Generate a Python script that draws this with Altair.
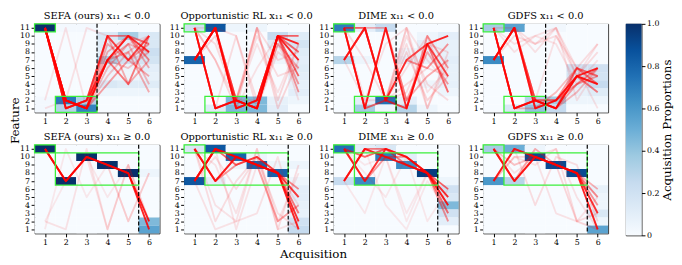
import altair as alt
import pandas as pd

# ---------------- data ----------------
ACQ = [1, 2, 3, 4, 5, 6]
FEATURES = [1, 2, 3, 4, 5, 6, 7, 8, 9, 10, 11]
METHODS = ["SEFA (ours)", "Opportunistic RL", "DIME", "GDFS"]
CONDS = ["x₁₁ < 0.0", "x₁₁ ≥ 0.0"]

# heatmap cells: (acquisition, feature, proportion); unlisted cells are 0
SEFA_LT_HEAT = [(1, 11, 1.0), (2, 2, 0.72), (2, 1, 0.3), (3, 1, 0.68), (3, 2, 0.32),
                (4, 10, 0.15), (4, 9, 0.12), (4, 8, 0.1), (4, 7, 0.35), (4, 6, 0.08), (4, 5, 0.05), (4, 4, 0.15), (4, 3, 0.05),
                (5, 10, 0.35), (5, 9, 0.1), (5, 8, 0.12), (5, 7, 0.2), (5, 6, 0.05), (5, 5, 0.05), (5, 4, 0.12), (5, 3, 0.05),
                (6, 10, 0.15), (6, 9, 0.15), (6, 8, 0.22), (6, 7, 0.18), (6, 6, 0.1), (6, 5, 0.08), (6, 4, 0.12), (6, 3, 0.05),
                (1, 1, 0.02), (1, 2, 0.02), (2, 11, 0.02), (3, 11, 0.02)]
OPP_LT_HEAT = [(1, 11, 0.2), (1, 7, 0.8), (2, 11, 0.85), (2, 1, 0.12), (3, 2, 0.45), (3, 1, 0.45), (3, 11, 0.05),
               (4, 2, 0.45), (4, 1, 0.45), (4, 11, 0.05),
               (5, 10, 0.25), (5, 9, 0.12), (5, 8, 0.05), (5, 7, 0.05), (5, 1, 0.1), (5, 2, 0.08),
               (6, 10, 0.12), (6, 9, 0.18), (6, 8, 0.12), (6, 7, 0.1), (6, 6, 0.12), (6, 5, 0.1), (6, 4, 0.08), (6, 3, 0.1), (6, 2, 0.05)]
DIME_LT_HEAT = [(1, 11, 0.7), (1, 7, 0.3), (2, 11, 0.1), (2, 1, 0.35), (2, 2, 0.1), (2, 7, 0.05),
                (3, 2, 0.75), (3, 11, 0.25), (3, 1, 0.05), (4, 1, 0.3), (4, 2, 0.1), (4, 7, 0.1), (4, 8, 0.05),
                (5, 9, 0.1), (5, 8, 0.08), (5, 7, 0.08), (5, 1, 0.05), (5, 4, 0.05), (5, 10, 0.05),
                (6, 10, 0.1), (6, 9, 0.08), (6, 8, 0.08), (6, 7, 0.1), (6, 6, 0.08), (6, 5, 0.08), (6, 4, 0.08), (6, 3, 0.05)]
GDFS_LT_HEAT = [(1, 11, 0.35), (1, 7, 0.65), (2, 11, 0.55), (2, 1, 0.15), (3, 2, 0.3), (3, 1, 0.4),
                (4, 2, 0.35), (4, 1, 0.25), (4, 11, 0.03),
                (5, 6, 0.2), (5, 5, 0.18), (5, 4, 0.12), (5, 3, 0.08), (5, 2, 0.05),
                (6, 6, 0.2), (6, 5, 0.18), (6, 4, 0.25), (6, 3, 0.12), (6, 2, 0.05)]
SEFA_GE_HEAT = [(1, 11, 1.0), (2, 7, 1.0), (3, 10, 1.0), (4, 9, 1.0), (5, 8, 1.0),
                (6, 2, 0.45), (6, 1, 0.55), (6, 8, 0.05)]
OPP_GE_HEAT = [(1, 11, 0.15), (1, 7, 0.85), (2, 11, 0.85), (2, 7, 0.1), (3, 10, 0.8), (3, 9, 0.05),
               (4, 9, 0.8), (4, 10, 0.05), (5, 8, 0.8), (5, 9, 0.05),
               (6, 1, 0.25), (6, 2, 0.2), (6, 3, 0.08), (6, 4, 0.08), (6, 5, 0.1), (6, 6, 0.1), (6, 7, 0.05), (6, 9, 0.05)]
DIME_GE_HEAT = [(1, 11, 0.75), (1, 7, 0.25), (2, 7, 0.65), (2, 11, 0.1), (3, 10, 0.7), (3, 11, 0.15),
                (4, 9, 0.65), (4, 10, 0.1), (5, 8, 0.95),
                (6, 4, 0.45), (6, 3, 0.2), (6, 6, 0.2), (6, 5, 0.15), (6, 2, 0.1), (6, 7, 0.05)]
GDFS_GE_HEAT = [(1, 11, 0.35), (1, 7, 0.6), (2, 11, 0.5), (2, 7, 0.3), (3, 10, 0.9), (3, 11, 0.05),
                (4, 9, 0.9), (5, 8, 0.9),
                (6, 1, 0.55), (6, 3, 0.15), (6, 6, 0.08), (6, 2, 0.05), (6, 4, 0.05), (6, 5, 0.05)]

# acquisition trajectories: (feature acquired at steps 1..6, line opacity)
SEFA_LT_PATHS = [([11, 2, 1, 7, 10, 8], 0.8), ([11, 1, 2, 10, 7, 10], 0.7), ([11, 2, 1, 7, 4, 10], 0.5),
                 ([11, 2, 1, 10, 10, 9], 0.5), ([11, 1, 2, 7, 10, 7], 0.45), ([11, 2, 1, 4, 7, 9], 0.35),
                 ([11, 2, 1, 9, 7, 5], 0.3), ([11, 2, 1, 8, 10, 6], 0.3), ([11, 1, 2, 7, 8, 3], 0.3),
                 ([11, 2, 1, 6, 9, 8], 0.25), ([11, 1, 2, 10, 4, 7], 0.3), ([11, 2, 1, 7, 9, 4], 0.25),
                 ([11, 2, 1, 5, 8, 10], 0.2), ([11, 1, 2, 7, 6, 8], 0.2),
                 ([2, 11, 1, 7, 9, 10], 0.1), ([1, 2, 11, 10, 7, 8], 0.1)]
OPP_LT_PATHS = [([11, 1, 2, 1, 10, 7], 0.85), ([7, 11, 1, 2, 10, 9], 0.85), ([11, 1, 2, 1, 10, 10], 0.6),
                ([7, 11, 2, 1, 10, 5], 0.6), ([7, 11, 1, 2, 10, 8], 0.5), ([11, 1, 2, 1, 10, 3], 0.4),
                ([7, 11, 2, 1, 9, 6], 0.3), ([7, 11, 1, 2, 10, 4], 0.3),
                ([11, 7, 1, 11, 2, 9], 0.15), ([7, 10, 2, 11, 1, 7], 0.15), ([11, 9, 2, 10, 5, 6], 0.12),
                ([7, 11, 10, 2, 9, 4], 0.12), ([11, 1, 10, 1, 8, 6], 0.12), ([7, 11, 2, 11, 7, 8], 0.12),
                ([11, 11, 1, 6, 10, 2], 0.1), ([7, 11, 2, 9, 3, 9], 0.1), ([11, 7, 2, 2, 10, 8], 0.12)]
DIME_LT_PATHS = [([11, 1, 11, 1, 9, 10], 0.85), ([7, 11, 2, 7, 9, 5], 0.7), ([11, 11, 2, 1, 9, 3], 0.5),
                 ([7, 11, 2, 1, 10, 6], 0.4), ([11, 1, 2, 7, 6, 9], 0.4), ([7, 11, 11, 2, 5, 7], 0.3),
                 ([11, 1, 11, 2, 8, 4], 0.3),
                 ([11, 7, 2, 11, 1, 8], 0.12), ([7, 11, 2, 10, 4, 2], 0.12), ([11, 2, 9, 11, 3, 6], 0.1),
                 ([11, 1, 2, 8, 2, 5], 0.15), ([7, 11, 2, 9, 1, 7], 0.12), ([11, 11, 2, 6, 10, 3], 0.12),
                 ([7, 2, 2, 11, 7, 4], 0.1), ([11, 1, 2, 3, 9, 8], 0.12), ([11, 11, 2, 4, 6, 5], 0.12)]
GDFS_LT_PATHS = [([11, 1, 2, 1, 5, 4], 0.85), ([7, 11, 1, 2, 5, 6], 0.85), ([11, 1, 2, 1, 6, 4], 0.5),
                 ([7, 11, 2, 1, 5, 3], 0.5), ([11, 1, 2, 2, 4, 6], 0.4), ([7, 11, 1, 2, 6, 5], 0.4),
                 ([11, 1, 2, 1, 4, 5], 0.35), ([7, 11, 2, 2, 5, 4], 0.3), ([11, 1, 1, 3, 6, 5], 0.25),
                 ([7, 11, 2, 1, 3, 6], 0.25),
                 ([11, 11, 9, 11, 5, 8], 0.12), ([7, 10, 9, 10, 6, 9], 0.12), ([11, 8, 10, 9, 4, 7], 0.1),
                 ([7, 11, 8, 11, 2, 6], 0.1), ([11, 9, 10, 11, 6, 1], 0.1), ([7, 11, 2, 10, 5, 9], 0.1)]
SEFA_GE_PATHS = [([11, 7, 10, 9, 8, 2], 0.85), ([11, 7, 10, 9, 8, 1], 0.85),
                 ([2, 1, 11, 1, 9, 2], 0.1), ([1, 11, 5, 9, 2, 8], 0.08), ([2, 7, 10, 5, 9, 1], 0.08),
                 ([11, 7, 10, 9, 2, 8], 0.12), ([11, 7, 10, 1, 9, 2], 0.1)]
OPP_GE_PATHS = [([7, 11, 10, 9, 8, 1], 0.85), ([11, 7, 10, 9, 8, 2], 0.8), ([7, 11, 9, 10, 8, 5], 0.6),
                ([11, 7, 10, 9, 8, 3], 0.5), ([7, 11, 10, 9, 8, 6], 0.45), ([7, 11, 10, 9, 2, 4], 0.35),
                ([11, 7, 9, 10, 8, 5], 0.4),
                ([11, 2, 7, 10, 1, 9], 0.12), ([7, 1, 2, 3, 10, 1], 0.1), ([11, 4, 2, 11, 2, 8], 0.1),
                ([7, 10, 6, 10, 3, 1], 0.12), ([11, 9, 3, 11, 1, 2], 0.1), ([7, 11, 1, 9, 8, 4], 0.1)]
DIME_GE_PATHS = [([11, 7, 11, 10, 8, 5], 0.8), ([7, 11, 10, 9, 8, 4], 0.8), ([11, 10, 11, 10, 8, 6], 0.6),
                 ([7, 11, 11, 9, 8, 3], 0.5), ([11, 7, 10, 10, 8, 4], 0.4), ([7, 11, 10, 9, 8, 2], 0.35),
                 ([11, 9, 10, 3, 8, 2], 0.08), ([7, 3, 10, 2, 8, 5], 0.08), ([11, 8, 5, 10, 2, 6], 0.08),
                 ([7, 11, 4, 1, 7, 3], 0.08)]
GDFS_GE_PATHS = [([11, 7, 10, 9, 8, 1], 0.85), ([7, 11, 10, 9, 8, 3], 0.8), ([11, 7, 10, 9, 8, 5], 0.45),
                 ([7, 11, 10, 9, 8, 4], 0.4), ([11, 7, 11, 9, 8, 6], 0.3),
                 ([7, 10, 10, 9, 2, 1], 0.15), ([11, 9, 10, 11, 2, 3], 0.12), ([7, 11, 4, 10, 9, 2], 0.12),
                 ([11, 8, 10, 3, 2, 5], 0.1), ([7, 10, 9, 11, 5, 1], 0.1), ([11, 9, 10, 9, 8, 1], 0.12)]

# highlighted blocks: (first acq, last acq, lowest feature, highest feature)
LT_BOXES = [(1, 1, 11, 11), (2, 3, 1, 2)]
GE_BOXES = [(1, 1, 11, 11), (2, 5, 7, 10)]
LT_CUT = 3   # dashed line after this acquisition
GE_CUT = 5

COLORBAR_TICKS = [0, 0.2, 0.4, 0.6, 0.8, 1.0]

# ---------------- style ----------------
BLUES = ["#f7fbff", "#deebf7", "#c6dbef", "#9ecae1", "#6baed6",
         "#4292c6", "#2171b5", "#08519c", "#08306b"]
BLUE_STOPS = [0, 0.125, 0.25, 0.375, 0.5, 0.625, 0.75, 0.875, 1.0]
FONT = "DejaVu Serif"
PW, PH = 127, 90

cscale = alt.Scale(domain=BLUE_STOPS, range=BLUES, interpolate="rgb")
xs = alt.Scale(domain=[0.5, 6.5], nice=False, zero=False)
ys = alt.Scale(domain=[0.5, 11.5], nice=False, zero=False)


def panel(method, cond, heat, paths, boxes, cut, feat_title=False, acq_title=False):
    cells = {(a, f): 0.0 for a in ACQ for f in FEATURES}
    for a, f, v in heat:
        cells[(a, f)] = v
    hdf = pd.DataFrame([{"a": a, "f": f, "v": v} for (a, f), v in cells.items()])

    rows = []
    order = sorted(range(len(paths)), key=lambda i: paths[i][1])
    for rank, i in enumerate(order):
        seq, w = paths[i]
        for a, f in zip(ACQ, seq):
            rows.append({"id": rank, "a": a, "f": f, "w": w})
    ldf = pd.DataFrame(rows)

    bdf = pd.DataFrame([{"a0": a0, "a1": a1, "f0": f0, "f1": f1} for a0, a1, f0, f1 in boxes])
    cdf = pd.DataFrame({"c": [cut]})

    if feat_title:
        # title of the upper-left panel, pushed down into the gap between the rows
        yaxis = alt.Axis(values=FEATURES, title="Feature", titleAngle=270, titleX=-13, titleY=PH + 8,
                         titleAlign="center", titleBaseline="bottom", titleFontSize=12,
                         titleFont=FONT, titleFontWeight="normal", titleColor="black")
    else:
        yaxis = alt.Axis(values=FEATURES, title=None)
    if acq_title:
        xaxis = alt.Axis(values=ACQ, title="Acquisition", titleX=131, titleFontSize=12,
                         titleFont=FONT, titleFontWeight="normal", titlePadding=3, titleColor="black")
    else:
        xaxis = alt.Axis(values=ACQ, title=None)

    X = lambda fld: alt.X(fld, type="quantitative", scale=xs, axis=xaxis)
    Y = lambda fld: alt.Y(fld, type="quantitative", scale=ys, axis=yaxis)

    hm = alt.Chart(hdf).transform_calculate(
        a0="datum.a - 0.5", a1="datum.a + 0.5", f0="datum.f - 0.5", f1="datum.f + 0.5"
    ).mark_rect(strokeWidth=0).encode(
        x=X("a0"), x2="a1", y=Y("f0"), y2="f1",
        color=alt.Color("v:Q", scale=cscale, legend=None),
    )
    ln = alt.Chart(ldf).mark_line(color="#ff0000", strokeWidth=1.9, strokeJoin="round").encode(
        x=X("a"), y=Y("f"), detail="id:N", order="a:Q",
        opacity=alt.Opacity("w:Q", scale=None),
    )
    bx = alt.Chart(bdf).transform_calculate(
        x0="datum.a0 - 0.5", x1="datum.a1 + 0.5", y0="datum.f0 - 0.5", y1="datum.f1 + 0.5"
    ).mark_rect(fillOpacity=0, stroke="#3cf03c", strokeWidth=1.3).encode(
        x=X("x0"), x2="x1", y=Y("y0"), y2="y1",
    )
    rl = alt.Chart(cdf).transform_calculate(cx="datum.c + 0.5").mark_rule(
        color="black", strokeDash=[4, 2], strokeWidth=1.2
    ).encode(x=X("cx"))

    return alt.layer(hm, ln, bx, rl).properties(
        width=PW, height=PH, title=f"{method} {cond}"
    )


panels = [
    panel(METHODS[0], CONDS[0], SEFA_LT_HEAT, SEFA_LT_PATHS, LT_BOXES, LT_CUT, feat_title=True),
    panel(METHODS[1], CONDS[0], OPP_LT_HEAT, OPP_LT_PATHS, LT_BOXES, LT_CUT),
    panel(METHODS[2], CONDS[0], DIME_LT_HEAT, DIME_LT_PATHS, LT_BOXES, LT_CUT),
    panel(METHODS[3], CONDS[0], GDFS_LT_HEAT, GDFS_LT_PATHS, LT_BOXES, LT_CUT),
    panel(METHODS[0], CONDS[1], SEFA_GE_HEAT, SEFA_GE_PATHS, GE_BOXES, GE_CUT),
    panel(METHODS[1], CONDS[1], OPP_GE_HEAT, OPP_GE_PATHS, GE_BOXES, GE_CUT, acq_title=True),
    panel(METHODS[2], CONDS[1], DIME_GE_HEAT, DIME_GE_PATHS, GE_BOXES, GE_CUT),
    panel(METHODS[3], CONDS[1], GDFS_GE_HEAT, GDFS_GE_PATHS, GE_BOXES, GE_CUT),
]
grid = alt.concat(*panels, columns=4, spacing={"row": 33, "column": 25}, bounds="flush")

cbdf = pd.DataFrame({"lo": [0.0], "hi": [1.0], "l": [0.0], "r": [1.0]})
grad = alt.Gradient(
    gradient="linear", x1=0, x2=0, y1=1, y2=0,
    stops=[alt.GradientStop(offset=o, color=c) for o, c in zip(BLUE_STOPS, BLUES)],
)
cbar = alt.Chart(cbdf).mark_rect(fill=grad).encode(
    x=alt.X("l:Q", scale=alt.Scale(domain=[0, 1], nice=False, zero=False), axis=None),
    x2="r",
    y=alt.Y("lo:Q", scale=alt.Scale(domain=[0, 1], nice=False, zero=False),
            axis=alt.Axis(orient="right", values=COLORBAR_TICKS,
                          labelExpr="datum.value == 0 ? '0' : format(datum.value, '.1f')",
                          title="Acquisition Proportions", titleAngle=270, titleBaseline="top",
                          titleAlign="center", titleFontSize=12, titleFont=FONT,
                          titleFontWeight="normal", titlePadding=3, titleColor="black")),
    y2="hi",
).properties(width=16, height=215)

chart = alt.hconcat(grid, cbar, spacing=16).configure_axis(
    labelFont=FONT, labelFontSize=8, labelColor="black", tickColor="black",
    tickSize=3.5, labelPadding=1.5, domain=False, grid=False, labelOverlap=False,
).configure_title(
    font=FONT, fontSize=10, fontWeight="normal", offset=2, color="black"
).configure_view(stroke="#333333", strokeWidth=1).properties(padding=0)

chart.save("out.html", embed_options={"renderer": "svg", "actions": False})
